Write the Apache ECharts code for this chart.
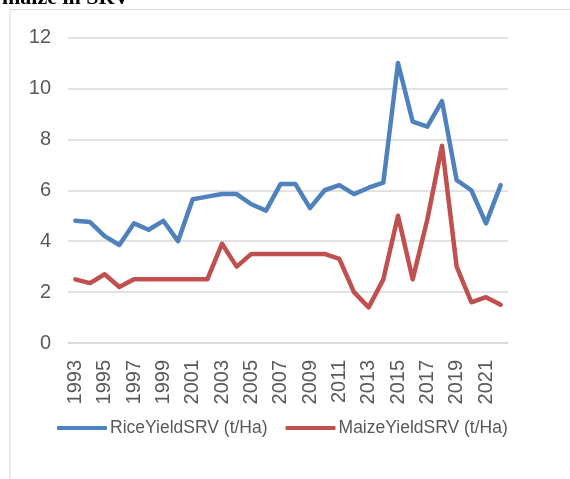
<!DOCTYPE html>
<html>
<head>
<meta charset="utf-8">
<script src="https://cdn.jsdelivr.net/npm/echarts@6/dist/echarts.min.js"></script>
<style>
  html, body { margin: 0; padding: 0; background: #fff; }
  #chart { width: 570px; height: 479px; }
</style>
</head>
<body>
<div id="chart"></div>
<script>
// years on the x axis
const years = [];
for (let y = 1993; y <= 2022; y++) years.push(String(y));

// yields (t/Ha)
const riceYield = [4.8, 4.75, 4.2, 3.85, 4.7, 4.45, 4.8, 4.0, 5.65, 5.75,
  5.85, 5.85, 5.45, 5.2, 6.25, 6.25, 5.3, 6.0, 6.2, 5.85,
  6.1, 6.3, 11.0, 8.7, 8.5, 9.5, 6.4, 6.0, 4.7, 6.2];
const maizeYield = [2.5, 2.35, 2.7, 2.2, 2.5, 2.5, 2.5, 2.5, 2.5, 2.5,
  3.9, 3.0, 3.5, 3.5, 3.5, 3.5, 3.5, 3.5, 3.3, 2.0,
  1.4, 2.5, 5.0, 2.5, 4.85, 7.75, 3.0, 1.6, 1.8, 1.5];

const font = 'Liberation Sans';
const textColor = '#595959';

const chart = echarts.init(document.getElementById('chart'));
chart.setOption({
  animation: false,
  graphic: [
    {
      type: 'rect',
      shape: { x: 10, y: 9.5, width: 600, height: 500 },
      style: { fill: 'none', stroke: '#d9d9d9', lineWidth: 1 }
    },
    {
      type: 'text',
      left: 2, top: -13,
      style: { text: 'maize in SRV', font: 'bold 22px "Liberation Serif"', fill: '#000' }
    }
  ],
  legend: {
    top: 414,
    left: 52,
    itemWidth: 50,
    itemHeight: 4,
    itemGap: 18,
    icon: 'roundRect',
    textStyle: { fontFamily: font, fontSize: 17.5, color: textColor, padding: [0, 0, 0, -2] },
    data: ['RiceYieldSRV (t/Ha)', 'MaizeYieldSRV (t/Ha)']
  },
  grid: { left: 68, right: 62, top: 37.5, bottom: 136 },
  xAxis: {
    type: 'category',
    data: years,
    boundaryGap: true,
    axisLine: { show: true, lineStyle: { color: '#d9d9d9', width: 1.5 } },
    axisTick: { show: false },
    axisLabel: {
      interval: 1,
      rotate: 90,
      margin: 17,
      fontFamily: font,
      fontSize: 20,
      color: textColor
    }
  },
  yAxis: {
    type: 'value',
    min: 0,
    max: 12,
    interval: 2,
    axisLine: { show: false },
    axisTick: { show: false },
    axisLabel: { margin: 17, fontFamily: font, fontSize: 20, color: textColor },
    splitLine: { lineStyle: { color: '#d9d9d9', width: 1.5 } }
  },
  series: [
    {
      name: 'RiceYieldSRV (t/Ha)',
      type: 'line',
      data: riceYield,
      showSymbol: false,
      lineStyle: { color: '#4F81BD', width: 4.5, cap: 'round', join: 'round' },
      itemStyle: { color: '#4F81BD' }
    },
    {
      name: 'MaizeYieldSRV (t/Ha)',
      type: 'line',
      data: maizeYield,
      showSymbol: false,
      lineStyle: { color: '#C0504D', width: 4.5, cap: 'round', join: 'round' },
      itemStyle: { color: '#C0504D' }
    }
  ]
});
</script>
</body>
</html>
